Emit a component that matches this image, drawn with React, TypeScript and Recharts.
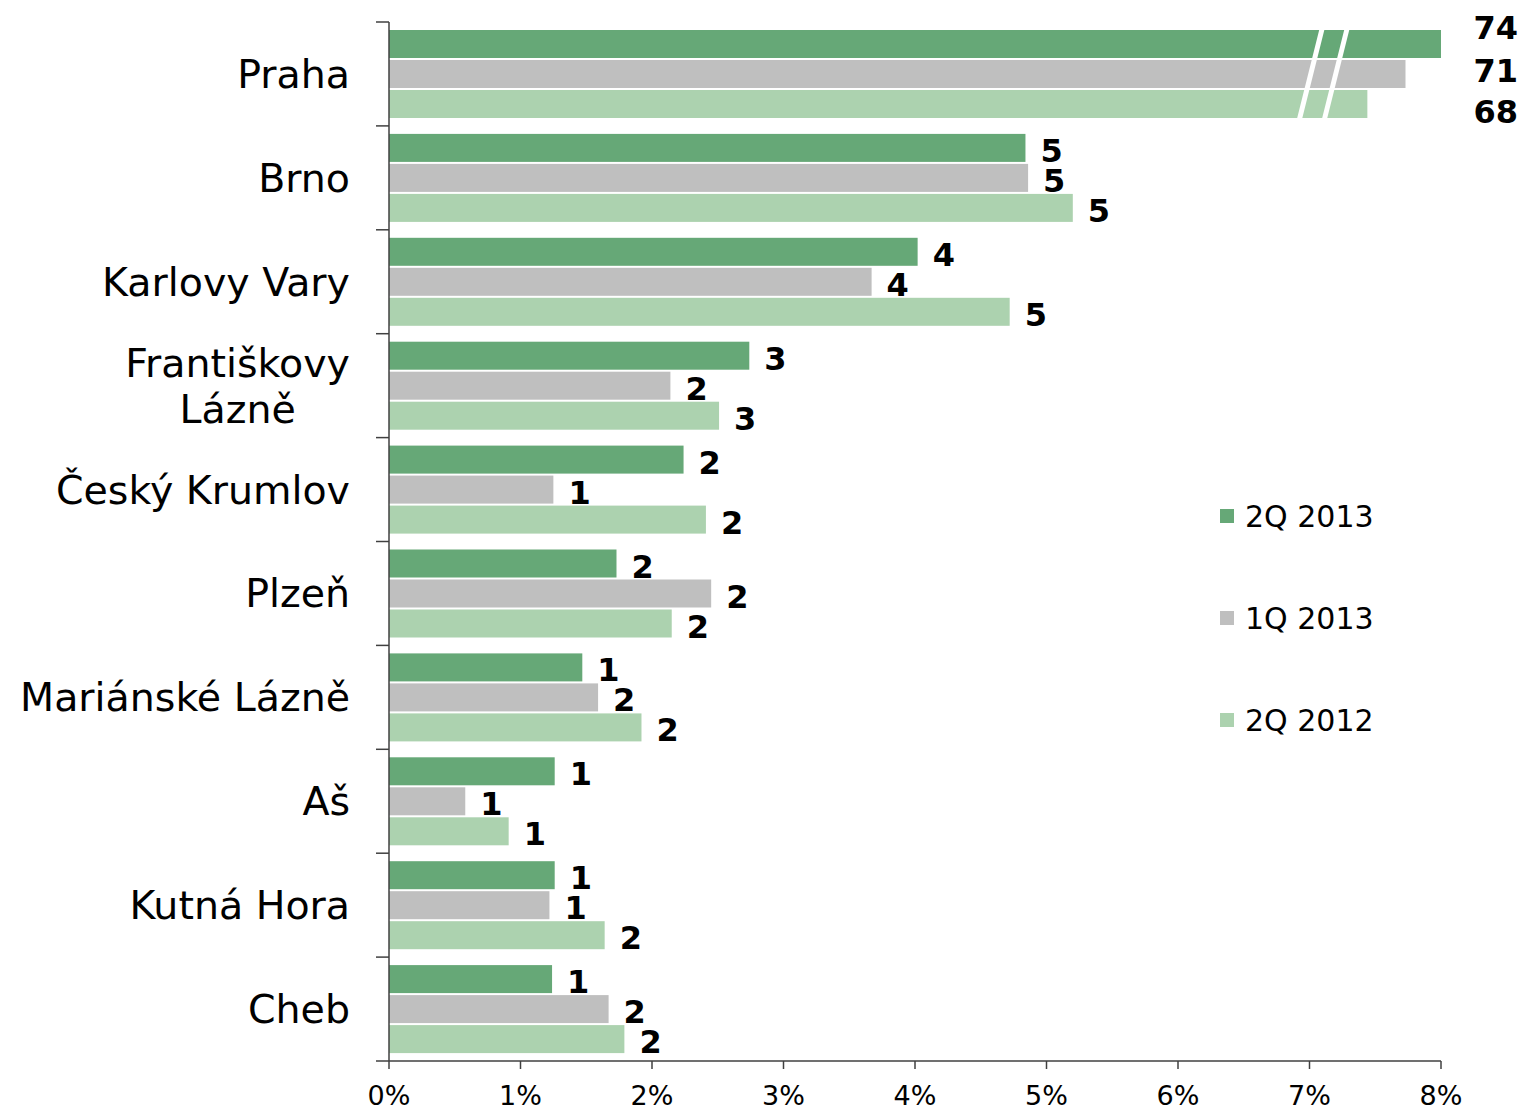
import { BarChart, Bar, XAxis, YAxis, LabelList } from 'recharts';

const categories = [
  'Praha',
  'Brno',
  'Karlovy Vary',
  'Františkovy Lázně',
  'Český Krumlov',
  'Plzeň',
  'Mariánské Lázně',
  'Aš',
  'Kutná Hora',
  'Cheb',
];
// tick label lines (Františkovy Lázně wraps)
const categoryLines = [
  ['Praha'],
  ['Brno'],
  ['Karlovy Vary'],
  ['Františkovy', 'Lázně'],
  ['Český Krumlov'],
  ['Plzeň'],
  ['Mariánské Lázně'],
  ['Aš'],
  ['Kutná Hora'],
  ['Cheb'],
];

const seriesNames = ['2Q 2013', '1Q 2013', '2Q 2012'];
const seriesColors = ['#66A877', '#BFBFBF', '#ACD2AF'];

// share in %, Praha bars are cut by the axis break
const share2Q2013 = [8.0, 4.84, 4.02, 2.74, 2.24, 1.73, 1.47, 1.26, 1.26, 1.24];
const share1Q2013 = [7.73, 4.86, 3.67, 2.14, 1.25, 2.45, 1.59, 0.58, 1.22, 1.67];
const share2Q2012 = [7.44, 5.2, 4.72, 2.51, 2.41, 2.15, 1.92, 0.91, 1.64, 1.79];

// printed values
const label2Q2013 = [74, 5, 4, 3, 2, 2, 1, 1, 1, 1];
const label1Q2013 = [71, 5, 4, 2, 1, 2, 2, 1, 1, 2];
const label2Q2012 = [68, 5, 5, 3, 2, 2, 2, 1, 2, 2];

const xTicks = [0, 1, 2, 3, 4, 5, 6, 7, 8];

const data = categories.map((name, i) => ({
  name,
  s0: share2Q2013[i],
  s1: share1Q2013[i],
  s2: share2Q2012[i],
  l0: label2Q2013[i],
  l1: label1Q2013[i],
  l2: label2Q2012[i],
}));

const W = 1524;
const H = 1109;
const MT = 22;
const MR = 83;
const YW = 389;
const XH = 48;
const BAND = (H - MT - XH) / categories.length;
const FONT = 'Verdana, "DejaVu Sans", sans-serif';
const MAX = 8;
const BREAKS = [7.095, 7.285];
const CAT_SIZE = 39.5;

let ctx: CanvasRenderingContext2D | null = null;
const measure = (t: string, size: number) => {
  if (!ctx) ctx = document.createElement('canvas').getContext('2d');
  if (!ctx) return t.length * size * 0.6;
  ctx.font = `${size}px "DejaVu Sans"`;
  return ctx.measureText(t).width;
};

const CategoryTick = ({ payload, index }: any) => {
  const cy = payload.coordinate;
  const lines = categoryLines[index] || [payload.value];
  const right = YW - 39;
  const lh = 46;
  const top = cy - BAND / 2;
  const maxW = Math.max(...lines.map((l) => measure(l, CAT_SIZE)));
  const multi = lines.length > 1;
  return (
    <g>
      <line x1={YW - 13} x2={YW} y1={top} y2={top} stroke="#404040" strokeWidth={1.5} />
      {index === categories.length - 1 && (
        <line x1={YW - 13} x2={YW} y1={top + BAND} y2={top + BAND} stroke="#404040" strokeWidth={1.5} />
      )}
      {lines.map((l, k) => (
        <text
          key={k}
          x={multi ? right - maxW / 2 : right}
          y={cy + (k - (lines.length - 1) / 2) * lh}
          textAnchor={multi ? 'middle' : 'end'}
          dominantBaseline="central"
          fontSize={CAT_SIZE}
          fontFamily={FONT}
          fill="#000"
        >
          {l}
        </text>
      ))}
    </g>
  );
};

const PercentTick = ({ x, payload }: any) => (
  <text
    x={x}
    y={H - MT - XH + MT + 34}
    textAnchor="middle"
    dominantBaseline="central"
    fontSize={27}
    fontFamily={FONT}
    fill="#000"
  >
    {`${payload.value}%`}
  </text>
);

const makeShape = (si: number) => (props: any) => {
  const { x, y, width, height, index, payload } = props;
  const v = payload[`s${si}`];
  const ppu = width / v;
  const slope = 0.25;
  return (
    <g>
      <rect x={x} y={y} width={width} height={height} fill={seriesColors[si]} />
      {index === 0 &&
        BREAKS.map((b, k) => {
          const topX = x + b * ppu - si * (height + 2) * slope;
          return (
            <line
              key={k}
              x1={topX}
              y1={y - 1}
              x2={topX - (height + 2) * slope}
              y2={y + height + 1}
              stroke="#fff"
              strokeWidth={5}
            />
          );
        })}
    </g>
  );
};

const praOffsets = [-16, -3, 8];

const makeLabel = (si: number) => (props: any) => {
  const { x, y, width, height, value, index } = props;
  const v = data[index][`s${si}` as 's0'];
  let tx = x + width + 15;
  let ty = y + height / 2 + 3;
  let anchor = 'start';
  if (index === 0) {
    tx = x + width * (MAX / v) + 77;
    ty = y + height / 2 + praOffsets[si];
    anchor = 'end';
  }
  return (
    <text
      x={tx}
      y={ty}
      textAnchor={anchor as any}
      dominantBaseline="central"
      fontSize={32}
      fontWeight="bold"
      fontFamily={FONT}
      fill="#000"
    >
      {value}
    </text>
  );
};

export default function App() {
  return (
    <div style={{ position: 'absolute', left: 0, top: 0, width: W, height: H, background: '#fff' }}>
      <BarChart
        width={W}
        height={H}
        data={data}
        layout="vertical"
        margin={{ top: MT, right: MR, left: 0, bottom: 0 }}
        barCategoryGap={8}
        barGap={2}
      >
        <XAxis
          type="number"
          domain={[0, MAX]}
          ticks={xTicks}
          height={XH}
          stroke="#404040"
          strokeWidth={1.5}
          tickSize={8}
          tick={<PercentTick />}
          allowDataOverflow
        />
        <YAxis
          type="category"
          dataKey="name"
          width={YW}
          stroke="#404040"
          strokeWidth={1.5}
          tickLine={false}
          tick={<CategoryTick />}
          interval={0}
        />
        {[0, 1, 2].map((si) => (
          <Bar
            key={si}
            dataKey={`s${si}`}
            name={seriesNames[si]}
            fill={seriesColors[si]}
            shape={makeShape(si)}
            isAnimationActive={false}
          >
            <LabelList dataKey={`l${si}`} content={makeLabel(si)} />
          </Bar>
        ))}
      </BarChart>
      <div style={{ position: 'absolute', left: 1220, top: 516 - 51, fontFamily: FONT }}>
        {seriesNames.map((n, i) => (
          <div key={n} style={{ display: 'flex', alignItems: 'center', height: 102 }}>
            <div style={{ width: 14, height: 14, background: seriesColors[i], marginRight: 11 }} />
            <span style={{ fontSize: 30, color: '#000' }}>{n}</span>
          </div>
        ))}
      </div>
    </div>
  );
}
